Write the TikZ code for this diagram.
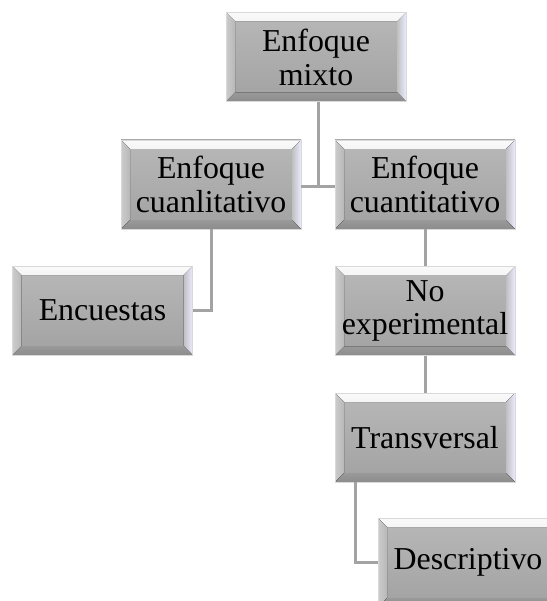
\documentclass[tikz,border=0pt]{standalone}
\usepackage{fontspec}
\setmainfont{Liberation Serif}
\usetikzlibrary{calc}
\definecolor{facetop}{HTML}{B8B8B8}
\definecolor{facebot}{HTML}{A2A2A2}
\definecolor{linkgray}{HTML}{A3A3A3}
\tikzset{
  bevelbox/.style={
    minimum width=180bp, minimum height=89bp, inner sep=0pt,
    align=center, text=black,
    font=\fontsize{32}{34}\selectfont,
    top color=facetop, bottom color=facebot,
    draw=black!15, line width=0.8bp,
    path picture={
      \def\b{9bp}
      % top bevel
      \fill[top color=white!96!gray, bottom color=black!22]
        (path picture bounding box.north west) -- (path picture bounding box.north east)
        -- ([shift={(-\b,-\b)}]path picture bounding box.north east)
        -- ([shift={(\b,-\b)}]path picture bounding box.north west) -- cycle;
      % left bevel
      \fill[left color=black!20, right color=black!28]
        (path picture bounding box.north west) -- ([shift={(\b,-\b)}]path picture bounding box.north west)
        -- ([shift={(\b,\b)}]path picture bounding box.south west)
        -- (path picture bounding box.south west) -- cycle;
      % right bevel
      \fill[left color=black!25, right color=white!92!blue]
        (path picture bounding box.north east) -- ([shift={(-\b,-\b)}]path picture bounding box.north east)
        -- ([shift={(-\b,\b)}]path picture bounding box.south east)
        -- (path picture bounding box.south east) -- cycle;
      % bottom bevel
      \fill[top color=black!40, bottom color=black!45]
        (path picture bounding box.south west) -- ([shift={(\b,\b)}]path picture bounding box.south west)
        -- ([shift={(-\b,\b)}]path picture bounding box.south east)
        -- (path picture bounding box.south east) -- cycle;
    }
  },
  link/.style={draw=linkgray, line width=3bp}
}
\begin{document}
\begin{tikzpicture}[x=1bp,y=-1bp]
\useasboundingbox (0,0) rectangle (547,601);
\clip (0,0) rectangle (547,601);
\node[bevelbox] (mixto) at (316,57) {Enfoque\\mixto};
\node[bevelbox] (cuanli) at (211,184.5) {Enfoque\\cuanlitativo};
\node[bevelbox] (cuanti) at (425,184.5) {Enfoque\\cuantitativo};
\node[bevelbox] (encu) at (102.5,310.5) {Encuestas};
\node[bevelbox] (noexp) at (425,311) {No\\experimental};
\node[bevelbox] (trans) at (425,437.5) {Transversal};
\node[bevelbox] (desc) at (468,562.5) {Descriptivo};
\coordinate (j1) at (318,186);
\draw[link] (mixto.south -| j1) -- (j1);
\draw[link] (cuanli.east |- j1) -- (cuanti.west |- j1);
\draw[link] (cuanli.south) |- (encu.east);
\draw[link] (cuanti.south) -- (noexp.north);
\draw[link] (noexp.south) -- (trans.north);
\coordinate (j2) at (355,0);
\draw[link] (trans.south -| j2) |- (desc.west);
\end{tikzpicture}
\end{document}
